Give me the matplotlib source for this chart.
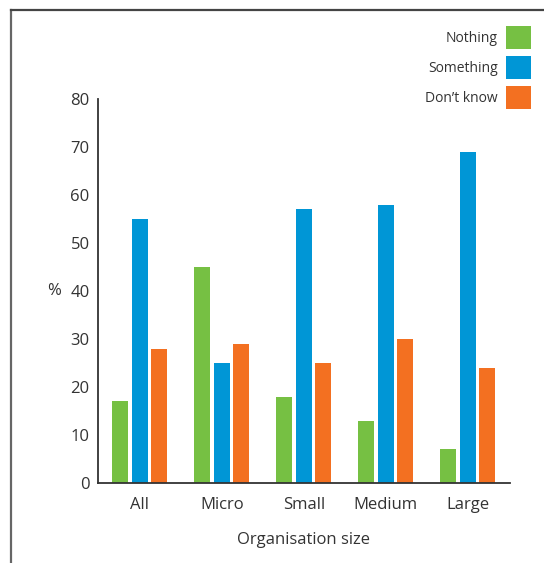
import numpy as np
from matplotlib import pyplot as plt
from matplotlib.lines import Line2D

# datos
sizes = ['All', 'Micro', 'Small', 'Medium', 'Large']
nothing = [17, 45, 18, 13, 7]
something = [55, 25, 57, 58, 69]
dont_know = [28, 29, 25, 30, 24]
series_names = ['Nothing', 'Something', 'Don\u2019t know']
colors = ['#76c043', '#0096d6', '#f37021']

plt.rcParams['font.family'] = ['Open Sans', 'DejaVu Sans']
text_color = '#333333'

fig = plt.figure(figsize=(5.44, 5.63), dpi=100)
ax = fig.add_axes([0.180, 0.142, 0.757, 0.682])

x = np.arange(len(sizes))
width = 0.195
step = 0.238
for i, (vals, name, col) in enumerate(zip([nothing, something, dont_know], series_names, colors)):
    ax.bar(x + (i - 1) * step, vals, width, color=col, label=name)

ax.set_xlim(-0.51, 4.51)
ax.set_ylim(0, 80)
ax.set_yticks(range(0, 81, 10))
ax.set_xticks(x)
ax.set_xticklabels(sizes)
ax.tick_params(length=0, labelsize=12, colors=text_color, pad=6)
ax.tick_params(axis='x', pad=10)

for s in ['top', 'right']:
    ax.spines[s].set_visible(False)
for s in ['left', 'bottom']:
    ax.spines[s].set_color(text_color)
    ax.spines[s].set_linewidth(1.3)

ax.set_ylabel('%', rotation=0, fontsize=12, color=text_color, labelpad=12, va='center')
ax.set_xlabel('Organisation size', fontsize=12, color=text_color, labelpad=14)

leg = ax.legend(loc='upper right', bbox_to_anchor=(1.064, 1.205), frameon=False,
                markerfirst=False, fontsize=10, handlelength=1.75, handleheight=2.17,
                labelspacing=0.5, handletextpad=0.6, borderaxespad=0)
for t in leg.get_texts():
    t.set_color(text_color)

# marco de la pagina (linea izquierda y superior)
fig.add_artist(Line2D([11 / 544, 11 / 544], [0, 1 - 10 / 563], color='#666666', lw=1.6))
fig.add_artist(Line2D([11 / 544, 1], [1 - 10 / 563, 1 - 10 / 563], color='#444444', lw=1.6))

fig.savefig('out.png', dpi=100)
